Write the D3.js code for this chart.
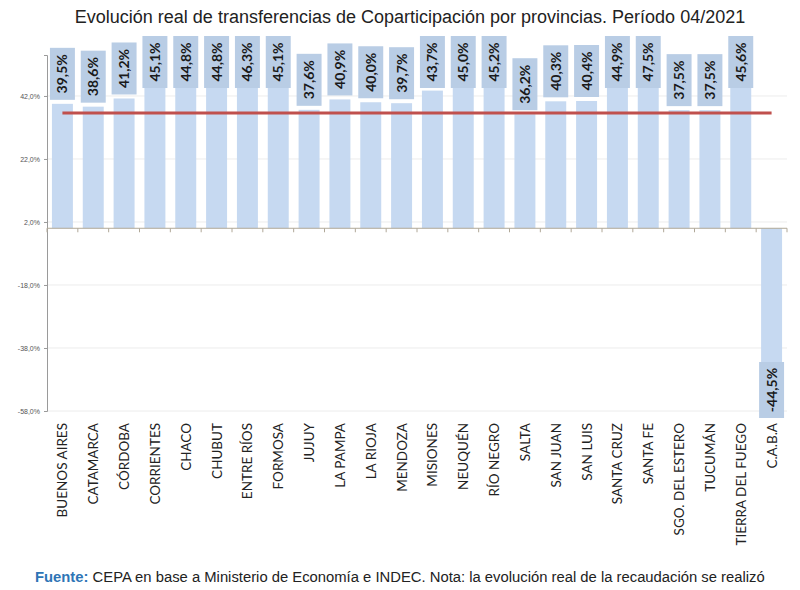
<!DOCTYPE html>
<html>
<head>
<meta charset="utf-8">
<script src="https://cdn.jsdelivr.net/npm/d3@7"></script>
<style>
  body { margin: 0; background: #fff; }
  svg { display: block; }
</style>
</head>
<body>
<div id="chart"></div>
<script>
const provinces = [
    "BUENOS AIRES", "CATAMARCA", "CÓRDOBA", "CORRIENTES", "CHACO", "CHUBUT",
    "ENTRE RÍOS", "FORMOSA", "JUJUY", "LA PAMPA", "LA RIOJA", "MENDOZA",
    "MISIONES", "NEUQUÉN", "RÍO NEGRO", "SALTA", "SAN JUAN", "SAN LUIS",
    "SANTA CRUZ", "SANTA FE", "SGO. DEL ESTERO", "TUCUMÁN", "TIERRA DEL FUEGO", "C.A.B.A"
];
const variation = [
    39.5, 38.6, 41.2, 45.1, 44.8, 44.8, 46.3, 45.1, 37.6, 40.9, 40.0, 39.7,
    43.7, 45.0, 45.2, 36.2, 40.3, 40.4, 44.9, 47.5, 37.5, 37.5, 45.6, -44.5
];
const average = 36.6;
const yTicks = [42, 22, 2, -18, -38, -58];

const width = 800;
const height = 590;
const left = 47, right = 787;
const boxTop = 36, boxBottom = 418, boxH = 52;

const data = provinces.map((p, i) => ({ name: p, value: variation[i] }));

const fmt = v => v.toFixed(1).replace(".", ",") + "%";

const svg = d3.select("#chart")
    .append("svg")
    .attr("width", width)
    .attr("height", height);

const x = d3.scaleBand()
    .domain(provinces)
    .range([left, right])
    .paddingInner(0.32)
    .paddingOuter(0.16);

const y = d3.scaleLinear()
    .domain([-58, 55])
    .range([411, 55]);

// gridlines
svg.append("g")
    .selectAll("line")
    .data(yTicks)
    .enter()
    .append("line")
    .attr("x1", left)
    .attr("x2", right)
    .attr("y1", d => y(d))
    .attr("y2", d => y(d))
    .style("stroke", "#ececec")
    .style("stroke-width", 1);

// y axis
const yAxis = svg.append("g")
    .attr("transform", `translate(${left},0)`)
    .call(d3.axisLeft(y).tickValues(yTicks).tickSize(3).tickPadding(4).tickFormat(fmt));
yAxis.select(".domain").style("stroke", "#9a9a9a");
yAxis.selectAll(".tick line").style("stroke", "#9a9a9a");
yAxis.selectAll("text")
    .style("font-family", "Liberation Sans, Arial, sans-serif")
    .style("font-size", "7px")
    .style("fill", "#555");

// bars
svg.append("g")
    .selectAll("rect")
    .data(data)
    .enter()
    .append("rect")
    .attr("x", d => x(d.name))
    .attr("width", x.bandwidth())
    .attr("y", d => y(Math.max(0, d.value)))
    .attr("height", d => Math.abs(y(d.value) - y(0)))
    .style("fill", "#c6d9f1");

// x axis line with boundary ticks
const step = x.step();
svg.append("line")
    .attr("x1", left)
    .attr("x2", right)
    .attr("y1", y(0))
    .attr("y2", y(0))
    .style("stroke", "#b0a898")
    .style("stroke-width", 1);
svg.append("g")
    .selectAll("line")
    .data(d3.range(provinces.length + 1))
    .enter()
    .append("line")
    .attr("x1", i => left + i * step)
    .attr("x2", i => left + i * step)
    .attr("y1", y(0))
    .attr("y2", y(0) + 4)
    .style("stroke", "#b0a898");

// average line
svg.append("line")
    .attr("x1", x(provinces[0]) + x.bandwidth() / 2)
    .attr("x2", x(provinces[provinces.length - 1]) + x.bandwidth() / 2)
    .attr("y1", y(average))
    .attr("y2", y(average))
    .style("stroke", "#c0504d")
    .style("stroke-width", 3);

// value boxes
const boxW = x.bandwidth() + 4;
const boxY = d => d.value >= 0
    ? Math.max(boxTop, y(d.value) - 4 - boxH)
    : Math.min(boxBottom - boxH - 4, y(d.value) - 6);

const labels = svg.append("g")
    .selectAll("g")
    .data(data)
    .enter()
    .append("g");

labels.append("rect")
    .attr("x", d => x(d.name) + x.bandwidth() / 2 - boxW / 2)
    .attr("y", d => boxY(d))
    .attr("width", boxW)
    .attr("height", d => d.value >= 0 ? boxH : boxH + 4)
    .style("fill", "#b9cde5");

labels.append("text")
    .attr("transform", d => {
        const cx = x(d.name) + x.bandwidth() / 2;
        const cy = boxY(d) + (d.value >= 0 ? boxH : boxH + 4) / 2;
        return `translate(${cx + 5},${cy}) rotate(-90)`;
    })
    .attr("text-anchor", "middle")
    .style("font-family", "Lato, 'Open Sans', sans-serif")
    .style("font-weight", "bold")
    .style("font-size", "14px")
    .style("fill", "#1a1a1a")
    .text(d => fmt(d.value));

// category labels
svg.append("g")
    .selectAll("text")
    .data(provinces)
    .enter()
    .append("text")
    .attr("transform", d => `translate(${x(d) + x.bandwidth() / 2 + 5},423) rotate(-90)`)
    .attr("text-anchor", "end")
    .style("font-family", "Lato, 'Open Sans', sans-serif")
    .style("font-size", "13.5px")
    .style("fill", "#222")
    .text(d => d);

// title
svg.append("text")
    .attr("x", 410)
    .attr("y", 23)
    .attr("text-anchor", "middle")
    .style("font-family", "Liberation Sans, Arial, sans-serif")
    .style("font-size", "18px")
    .style("fill", "#222")
    .text("Evolución real de transferencias de Coparticipación por provincias. Período 04/2021");

// footer, fitted to the reference width
const footG = svg.append("g").attr("transform", "translate(35,582)");
const foot = footG.append("text")
    .style("font-family", "'Liberation Sans', Arial, sans-serif")
    .style("font-size", "14px")
    .style("fill", "#222");
foot.append("tspan")
    .style("fill", "#2e75b6")
    .style("font-weight", "bold")
    .text("Fuente: ");
foot.append("tspan")
    .text("CEPA en base a Ministerio de Economía e INDEC. Nota: la evolución real de la recaudación se realizó");
const footLen = foot.node().getComputedTextLength();
foot.attr("transform", `scale(${730 / footLen},1)`);
</script>
</body>
</html>
